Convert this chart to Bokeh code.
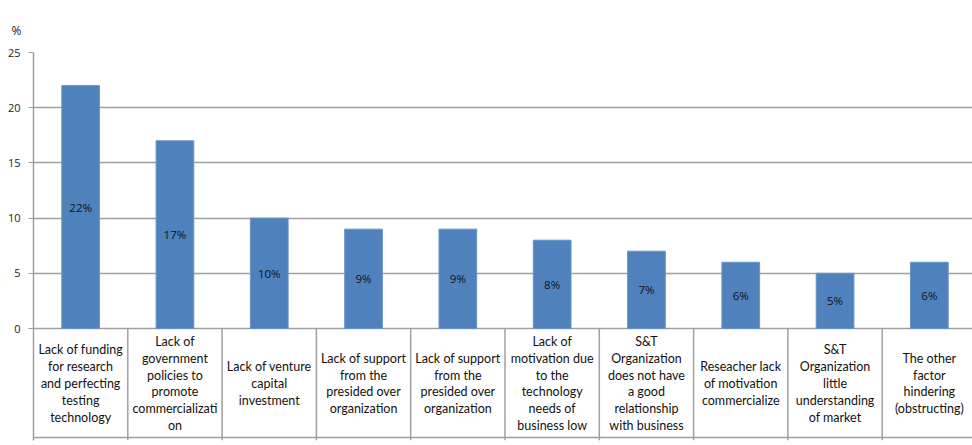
from bokeh.plotting import figure
from bokeh.models import Range1d, FixedTicker, Span, ColumnDataSource
from bokeh.core.properties import value
from bokeh.embed import file_html
from bokeh.resources import INLINE

categories = [
    "Lack of funding\nfor research\nand perfecting\ntesting\ntechnology",
    "Lack of\ngovernment\npolicies to\npromote\ncommercializati\non",
    "Lack of venture\ncapital\ninvestment",
    "Lack of support\nfrom the\npresided over\norganization",
    "Lack of support\nfrom the\npresided over\norganization",
    "Lack of\nmotivation due\nto the\ntechnology\nneeds of\nbusiness low",
    "S&T\nOrganization\ndoes not have\na good\nrelationship\nwith business",
    "Reseacher lack\nof motivation\ncommercialize",
    "S&T\nOrganization\nlittle\nunderstanding\nof market",
    "The other\nfactor\nhindering\n(obstructing)",
]
values = [22, 17, 10, 9, 9, 8, 7, 6, 5, 6]
value_labels = ["22%", "17%", "10%", "9%", "9%", "8%", "7%", "6%", "5%", "6%"]
y_ticks = [0, 5, 10, 15, 20, 25]

W, H = 972, 445
left, top, bottom_px = 33, 52, 440
cat_px = 94.3
px_per_unit = (328 - top) / 25.0
y_min = -(bottom_px - 328) / px_per_unit
x_max = (W - left) / cat_px

n = len(values)
centers = [i + 0.5 for i in range(n)]
src = ColumnDataSource(dict(
    x=centers, top=values, mid=[v / 2 for v in values], lab=value_labels,
    cat=categories, cat_y=[-(383 - 328) / px_per_unit] * n,
))

p = figure(width=W, height=H, output_backend="svg", toolbar_location=None,
           x_range=Range1d(0, x_max), y_range=Range1d(y_min, 25),
           min_border_left=left, min_border_top=top, min_border_right=0,
           min_border_bottom=H - bottom_px, outline_line_color=None,
           background_fill_color="white", border_fill_color="white")

p.title.text = "%"
p.title.align = "left"
p.title.offset = -22
p.title.standoff = 27
p.title.text_font = "Open Sans"
p.title.text_font_size = "12px"
p.title.text_font_style = "normal"
p.title.text_color = "#222222"

p.xaxis.visible = False
p.xgrid.visible = False

grid_col = "#a0a0a0"
p.yaxis.ticker = FixedTicker(ticks=y_ticks)
p.yaxis.minor_tick_line_color = None
p.yaxis.major_tick_out = 5
p.yaxis.major_tick_in = 0
p.yaxis.major_tick_line_color = grid_col
p.yaxis.axis_line_color = grid_col
p.yaxis.axis_line_width = 1.5
p.yaxis.major_label_standoff = 8
p.yaxis.major_label_text_font = "Open Sans"
p.yaxis.major_label_text_font_size = "11px"
p.yaxis.major_label_text_color = "#222222"
p.ygrid.ticker = FixedTicker(ticks=y_ticks)
p.ygrid.grid_line_color = grid_col
p.ygrid.grid_line_width = 1.5

p.vbar(x="x", top="top", width=0.4, bottom=0, source=src,
       fill_color="#4f81bd", line_color="#6a94c8", line_width=1)

p.text(x="x", y="mid", text="lab", source=src, text_align="center",
       text_baseline="middle", text_font=value("Open Sans"),
       text_font_size="11.5px", text_color="#111111")

# category table
sep_x = list(range(1, n))
p.segment(x0=sep_x, y0=[0] * len(sep_x), x1=sep_x, y1=[y_min] * len(sep_x),
          line_color=grid_col, line_width=1.5)
p.add_layout(Span(location=-(437 - 328) / px_per_unit, dimension="width",
                  line_color=grid_col, line_width=1.5))

p.text(x="x", y="cat_y", text="cat", source=src, text_align="center",
       text_baseline="middle", text_font=value("Lato"),
       text_font_size="12.5px", text_line_height=1.12, text_color="#111111")

open("out.html", "w").write(file_html(p, INLINE))
